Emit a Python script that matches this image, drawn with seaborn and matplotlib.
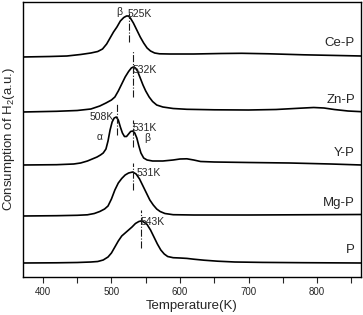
import numpy as np
import pandas as pd
import matplotlib
matplotlib.use("Agg")
import matplotlib.pyplot as plt
import seaborn as sns

# TPR curves (signal above each baseline, a.u.)
p_temp = [370, 420, 450, 470, 480, 488, 495, 500, 505, 510, 515, 520, 525, 530, 535, 540, 543, 547, 552,
          557, 562, 567, 572, 577, 582, 590, 600, 610, 620, 635, 655, 680, 720, 780, 865]
p_sig = [0, 0.2, 0.5, 1, 1.5, 3, 6, 10, 16, 22, 27, 30, 33, 36, 39.5, 41.5, 42, 41, 38.5,
         33, 26, 19, 13, 9, 6.5, 5.3, 5, 4.6, 3.8, 2.8, 1.8, 1, 0.6, 0.3, 0]

mg_temp = [370, 420, 450, 465, 475, 483, 490, 495, 500, 505, 510, 515, 520, 525, 531, 536, 541, 546, 551,
           556, 561, 566, 571, 578, 590, 620, 700, 800, 865]
mg_sig = [0, 0.3, 0.7, 1.2, 2.5, 4.5, 7, 10, 17, 26, 33, 37.5, 41, 43, 44, 42, 37, 30, 23,
          16, 11, 7, 4.5, 2.5, 1.3, 1, 1, 1.3, 1.5]

y_temp = [370, 420, 445, 455, 465, 472, 479, 484, 488, 492, 495, 498, 501, 504, 507, 510, 513, 516, 519,
          522, 525, 528, 531, 534, 537, 540, 543, 547, 552, 560, 575, 590, 600, 610, 620, 630, 650, 700,
          760, 820, 865]
y_sig = [0, 0.3, 1, 2, 4, 6, 8, 10, 12, 16, 24, 35, 43, 47, 48, 45, 38, 32, 28.5,
         28.5, 31, 33.5, 34, 32, 27, 19, 12, 7, 5, 4, 4, 5, 6, 6.2, 5, 3.5, 3, 2.5,
         2, 1, 0]

zn_temp = [370, 420, 450, 470, 483, 492, 500, 505, 510, 515, 520, 525, 529, 532, 535, 538, 542, 546, 550,
           555, 560, 566, 575, 590, 610, 650, 700, 740, 775, 795, 810, 825, 845, 865]
zn_sig = [0, 0.7, 1.5, 3, 6, 9, 12, 15, 21, 28, 35, 40.5, 44, 45, 44, 41, 34, 27, 21,
          15, 10.5, 7, 5, 3.5, 2.7, 2.2, 2, 2.5, 3.8, 4.5, 4, 2.5, 1, 0.3]

ce_temp = [370, 410, 435, 455, 470, 480, 487, 493, 498, 503, 508, 513, 518, 522, 525, 528, 532, 537, 542,
           547, 552, 557, 563, 570, 585, 620, 660, 690, 730, 780, 830, 865]
ce_sig = [0, 0.5, 1, 2.5, 4, 5.5, 8, 13, 19, 25, 30, 36, 39.5, 41, 41, 38.5, 34, 27, 20,
          14, 9, 6, 4, 3.2, 3, 3, 3.5, 3.7, 3.2, 2.2, 1.5, 1]

samples = ["P", "Mg-P", "Y-P", "Zn-P", "Ce-P"]
offsets = [14, 61, 112, 165, 220]
peak_temps = [525, 532, 508, 531, 531, 543]

curves = [(p_temp, p_sig), (mg_temp, mg_sig), (y_temp, y_sig), (zn_temp, zn_sig), (ce_temp, ce_sig)]
frames = []
for name, off, (t, s) in zip(samples, offsets, curves):
    frames.append(pd.DataFrame({"sample": name, "temp": t, "signal": np.array(s) + off}))
df = pd.concat(frames, ignore_index=True)

sns.set_theme(style="ticks")
plt.rcParams["font.family"] = ["Liberation Sans", "DejaVu Sans"]
plt.rcParams["mathtext.default"] = "regular"

fig, ax = plt.subplots(figsize=(3.63, 3.15), dpi=100)
fig.subplots_adjust(left=23/363, right=361/363, bottom=38/315, top=313/315)

for name in samples:
    sns.lineplot(data=df[df["sample"] == name], x="temp", y="signal", color="black",
                 linewidth=1.2, ax=ax, estimator=None, sort=False)

# peak markers
ax.vlines(peak_temps[0], 235, 264, colors="k", linestyles="-.", linewidth=0.8)
ax.vlines(peak_temps[1], 180, 227, colors="k", linestyles="-.", linewidth=0.8)
ax.vlines(peak_temps[2], 142, 174, colors="k", linestyles="-.", linewidth=0.8)
ax.vlines(peak_temps[3], 130, 157, colors="k", linestyles="-.", linewidth=0.8)
ax.vlines(peak_temps[4], 87, 114, colors="k", linestyles="-.", linewidth=0.8)
ax.vlines(peak_temps[5], 29, 67, colors="k", linestyles="-.", linewidth=0.8)

fs = 7.5
ax.text(524, 263, "525K", fontsize=fs, va="center")
ax.text(512, 265, "β", fontsize=fs, va="center", ha="center")
ax.text(531, 207, "532K", fontsize=fs, va="center")
ax.text(503, 160, "508K", fontsize=fs, va="center", ha="right")
ax.text(483, 140, "α", fontsize=fs, va="center", ha="center")
ax.text(531, 149, "531K", fontsize=fs, va="center")
ax.text(552, 139, "β", fontsize=fs, va="center", ha="center")
ax.text(537, 104, "531K", fontsize=fs, va="center")
ax.text(543, 55, "543K", fontsize=fs, va="center")

label_y = [27, 74, 124, 177, 234]
for name, ly in zip(samples, label_y):
    ax.text(0.982, ly, name, transform=ax.get_yaxis_transform(), ha="right", va="center", fontsize=9.5)

ax.set_xlim(371, 864)
ax.set_ylim(0, 275)
ax.set_xticks([400, 500, 600, 700, 800])
ax.set_xticks([450, 550, 650, 750, 850], minor=True)
ax.tick_params(axis="x", which="both", direction="out", length=4, width=0.8, labelsize=7, pad=3)
ax.set_yticks([])
for sp in ax.spines.values():
    sp.set_linewidth(1.0)
    sp.set_color("black")
ax.set_xlabel("Temperature(K)", fontsize=9.5, labelpad=2)
ax.set_ylabel("Consumption of H$_2$(a.u.)", fontsize=9.5, labelpad=4)

fig.savefig("out.png", dpi=100)
